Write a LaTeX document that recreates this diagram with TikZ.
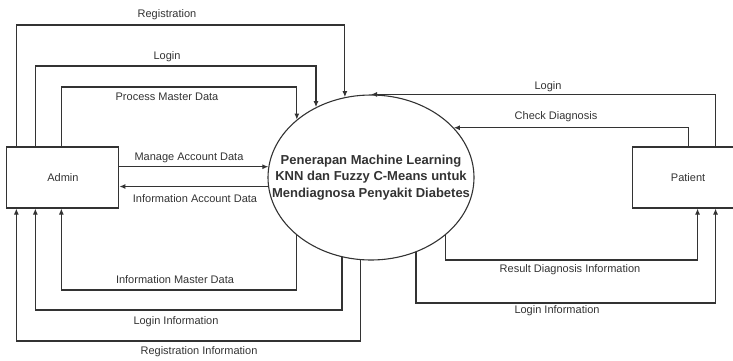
\documentclass[tikz,border=0pt]{standalone}
\usepackage{fontspec}
\setmainfont{Liberation Sans}
\usetikzlibrary{shapes, arrows.meta, positioning}

\begin{document}
\begin{tikzpicture}[x=1pt,y=-1pt,line width=1.1pt,color=black!80,
    flow/.style={-{Latex[length=6pt,width=5pt]}},
    lbl/.style={font=\fontsize{11}{13}\selectfont, inner sep=0pt},
    entity/.style={draw, minimum width=112pt, minimum height=61pt,
        font=\fontsize{11}{13}\selectfont}]
\useasboundingbox (0,0) rectangle (733,360);

\node[draw,
    ellipse,
    minimum width=206pt,
    minimum height=165pt,
    inner sep=0pt] (P) at (371,177.5) {};
\node[font=\bfseries\fontsize{13}{16.5}\selectfont, align=center] (Ptext) at (P.center)
    {Penerapan Machine Learning\\KNN dan Fuzzy C-Means untuk\\Mendiagnosa Penyakit Diabetes};

\node[entity, left=148pt of P] (admin) {Admin};
\node[entity, right=157pt of P] (patient) {Patient};

% levels of the flows
\coordinate (reg) at (0,25);
\coordinate (log) at (0,66);
\coordinate (pmd) at (0,87);
\coordinate (imd) at (0,290);
\coordinate (loginf) at (0,310);
\coordinate (reginf) at (0,341);
\coordinate (rdi) at (0,260);
\coordinate (plinf) at (0,303);

% Admin
\draw[flow] ([xshift=10pt]admin.north west) |- (P.108.7 |- reg) -- (P.108.7);
\draw[flow] ([xshift=29pt]admin.north west) |- (P.128.2 |- log) -- (P.128.2);
\draw[flow] ([xshift=55pt]admin.north west) |- (P.142.2 |- pmd) -- (P.142.2);
\draw[flow] (admin.east |- P.174.7) -- (P.174.7);
\draw[flow] (P.185.3) -- (admin.east |- P.185.3);
\draw[flow] (P.218.6) -- (P.218.6 |- imd) -| ([xshift=55pt]admin.south west);
\draw[flow] (P.250.6) -- (P.250.6 |- loginf) -| ([xshift=29pt]admin.south west);
\draw[flow] (P.263) -- (P.263 |- reginf) -| ([xshift=10pt]admin.south west);

% Patient
\draw[flow] ([xshift=84pt]patient.north west) |- (P.north);
\draw[flow] (patient.north) |- (P.31.8);
\draw[flow] (P.322.2) -- (P.322.2 |- rdi) -| ([xshift=66pt]patient.south west);
\draw[flow] (P.301.9) -- (P.301.9 |- plinf) -| ([xshift=84pt]patient.south west);

% labels
\node[lbl] (lreg) at (167,15) {Registration};
\node[lbl] (llog) at (167,57) {Login};
\node[lbl] (lpmd) at (167,97) {Process Master Data};
\node[lbl] (lmad) at (189,158) {Manage Account Data};
\node[lbl] (liad) at (195,199) {Information Account Data};
\node[lbl] (limd) at (175,280) {Information Master Data};
\node[lbl] (lli) at (176,322) {Login Information};
\node[lbl] (lri) at (199,352) {Registration Information};
\node[lbl] (lplog) at (548,87) {Login};
\node[lbl] (lchk) at (556,117) {Check Diagnosis};
\node[lbl] (lrdi) at (570,270) {Result Diagnosis Information};
\node[lbl] (lpli) at (557,311) {Login Information};
\end{tikzpicture}
\end{document}
